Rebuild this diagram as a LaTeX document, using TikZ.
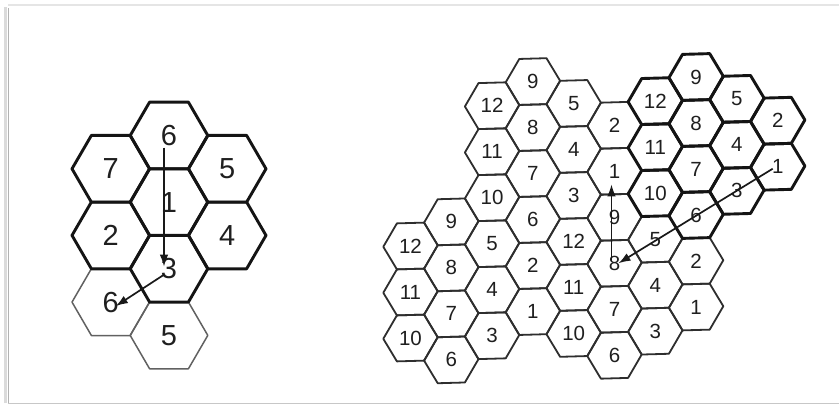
\documentclass[tikz,border=0pt]{standalone}
\usepackage{fontspec}
\setmainfont{Liberation Sans}
\usetikzlibrary{arrows.meta}
\tikzset{
  thinhex/.style={draw=black!82, line width=1.8pt, line join=round},
  boldhex/.style={draw=black!92, line width=2.9pt, line join=round},
  pale/.style={draw=black!62, line width=1.5pt, line join=round},
  biglbl/.style={inner sep=0pt, text=black!88, font=\fontsize{29}{29}\selectfont},
  smalllbl/.style={inner sep=0pt, text=black!88, font=\fontsize{20.5}{20.5}\selectfont},
  arr/.style={draw=black!90, line width=1.7pt, -{Latex[length=12pt,width=8.5pt]}},
}
% left cluster hexagon: name, x, y, label, style
\newcommand{\lhex}[5]{%
  \draw[#5] (#2+38.8,#3) -- (#2+19.4,#3-33.4) -- (#2-19.4,#3-33.4) -- (#2-38.8,#3)
     -- (#2-19.4,#3+33.4) -- (#2+19.4,#3+33.4) -- cycle;
  \node[biglbl] (#1) at (#2,#3) {#4};}
% right cluster hexagon: col, row, label, style
\newcommand{\rhex}[4]{%
  \pgfmathsetmacro{\cx}{#1*40.8}%
  \pgfmathsetmacro{\cy}{108-23*mod(#1,2)+46*#2}%
  \draw[#4] (\cx+27.2,\cy) -- (\cx+13.6,\cy-23) -- (\cx-13.6,\cy-23) -- (\cx-27.2,\cy)
     -- (\cx-13.6,\cy+23) -- (\cx+13.6,\cy+23) -- cycle;
  \node[smalllbl] (R-#1-#2) at (\cx,\cy) {#3};}
\begin{document}
\begin{tikzpicture}[x=1pt,y=-1pt]
\useasboundingbox (0,0) rectangle (839,407);
\fill[white] (0,0) rectangle (839,407);
% frame
\draw[black!10, line width=1.5pt] (8,5) -- (839,5);
\draw[black!14, line width=3pt] (5,403) -- (5,7);
\draw[black!30, line width=1pt] (8,403) -- (8,8);
\draw[black!22, line width=1.5pt] (8,403.5) -- (839,403.5);

% ---------- left cluster ----------
\lhex{L6b}{110.8}{302.1}{6}{pale}
\lhex{L5b}{169}{335.4}{5}{pale}
\lhex{L6t}{169}{135.5}{6}{boldhex}
\lhex{L7}{110.8}{168.8}{7}{boldhex}
\lhex{L5}{227.2}{168.8}{5}{boldhex}
\lhex{L1}{169}{202.1}{1}{boldhex}
\lhex{L2}{110.8}{235.4}{2}{boldhex}
\lhex{L4}{227.2}{235.4}{4}{boldhex}
\lhex{L3}{169}{268.7}{3}{boldhex}

\coordinate (la) at ([xshift=-5pt,yshift=-12pt]L6t.center);
\coordinate (lb) at ([xshift=-5pt,yshift=2pt]L3.center);
\coordinate (lc) at ([xshift=-5pt,yshift=-6pt]L3.center);
\coordinate (ld) at ([xshift=5pt,yshift=-4pt]L6b.center);
\draw[arr] (la) -- (lb);
\draw[arr] (lc) -- (ld);

% ---------- right cluster ----------
\begin{scope}[shift={(410.5,0)}, yslant=0.028]
% thin cells
\rhex{0}{3}{12}{thinhex}
\rhex{0}{4}{11}{thinhex}
\rhex{0}{5}{10}{thinhex}
\rhex{1}{3}{9}{thinhex}
\rhex{1}{4}{8}{thinhex}
\rhex{1}{5}{7}{thinhex}
\rhex{1}{6}{6}{thinhex}
\rhex{2}{0}{12}{thinhex}
\rhex{2}{1}{11}{thinhex}
\rhex{2}{2}{10}{thinhex}
\rhex{2}{3}{5}{thinhex}
\rhex{2}{4}{4}{thinhex}
\rhex{2}{5}{3}{thinhex}
\rhex{3}{0}{9}{thinhex}
\rhex{3}{1}{8}{thinhex}
\rhex{3}{2}{7}{thinhex}
\rhex{3}{3}{6}{thinhex}
\rhex{3}{4}{2}{thinhex}
\rhex{3}{5}{1}{thinhex}
\rhex{4}{0}{5}{thinhex}
\rhex{4}{1}{4}{thinhex}
\rhex{4}{2}{3}{thinhex}
\rhex{4}{3}{12}{thinhex}
\rhex{4}{4}{11}{thinhex}
\rhex{4}{5}{10}{thinhex}
\rhex{5}{1}{2}{thinhex}
\rhex{5}{2}{1}{thinhex}
\rhex{5}{3}{9}{thinhex}
\rhex{5}{4}{8}{thinhex}
\rhex{5}{5}{7}{thinhex}
\rhex{5}{6}{6}{thinhex}
\rhex{6}{3}{5}{thinhex}
\rhex{6}{4}{4}{thinhex}
\rhex{6}{5}{3}{thinhex}
\rhex{7}{4}{2}{thinhex}
\rhex{7}{5}{1}{thinhex}
% bold cells
\rhex{6}{0}{12}{boldhex}
\rhex{6}{1}{11}{boldhex}
\rhex{6}{2}{10}{boldhex}
\rhex{7}{0}{9}{boldhex}
\rhex{7}{1}{8}{boldhex}
\rhex{7}{2}{7}{boldhex}
\rhex{7}{3}{6}{boldhex}
\rhex{8}{0}{5}{boldhex}
\rhex{8}{1}{4}{boldhex}
\rhex{8}{2}{3}{boldhex}
\rhex{9}{1}{2}{boldhex}
\rhex{9}{2}{1}{boldhex}
\end{scope}

\coordinate (ra) at ([xshift=-3pt,yshift=2pt]R-5-4.center);
\coordinate (rb) at ([xshift=-3pt,yshift=-13pt]R-5-2.center);
\coordinate (rc) at ([xshift=-5pt,yshift=-2pt]R-9-2.center);
\coordinate (rd) at ([xshift=4pt,yshift=0pt]R-5-4.center);
\draw[arr] (ra) -- (rb);
\draw[arr] (rc) -- (rd);
\end{tikzpicture}
\end{document}
